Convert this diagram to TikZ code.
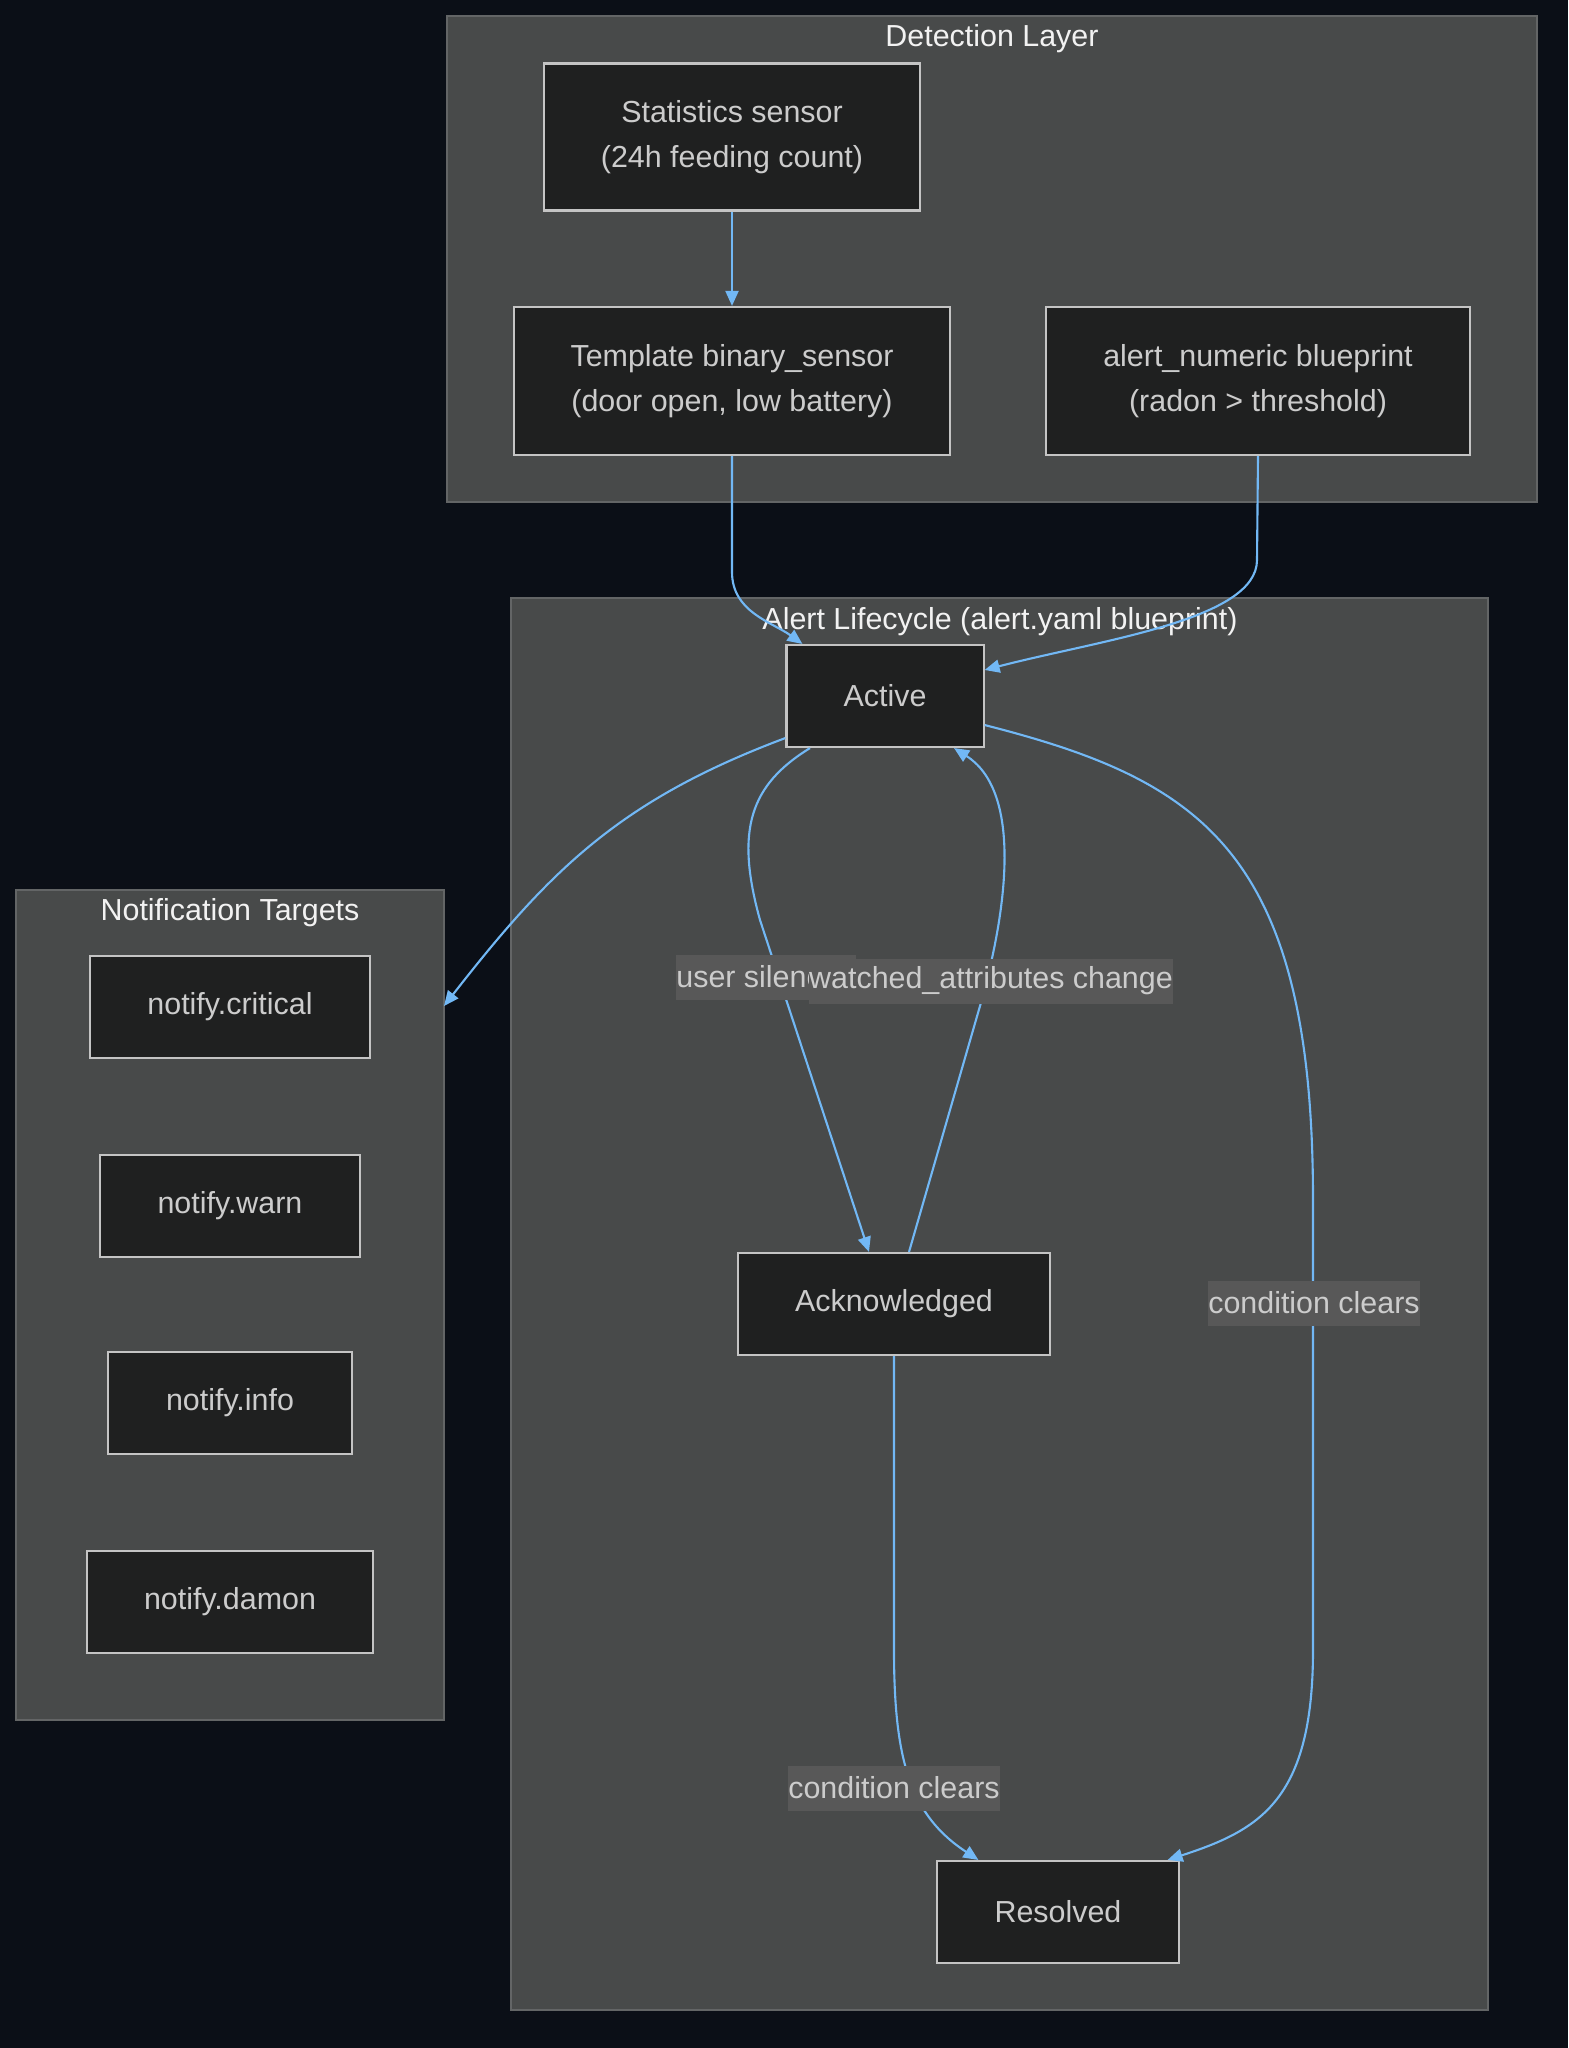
\documentclass[tikz,border=0pt]{standalone}
\usepackage{fontspec}
\setmainfont{Liberation Sans}
\usetikzlibrary{arrows.meta}
\definecolor{bgcol}{HTML}{0B0F17}
\definecolor{clustfill}{HTML}{484A4A}
\definecolor{clustline}{HTML}{636566}
\definecolor{boxfill}{HTML}{1F2020}
\definecolor{boxline}{HTML}{C4C4C4}
\definecolor{edgecol}{HTML}{72B8F5}
\definecolor{lblfill}{HTML}{585858}
\definecolor{txtcol}{HTML}{CCCCCC}
\tikzset{
  box/.style={draw=boxline, fill=boxfill, line width=0.6pt, text=txtcol, align=center, inner sep=0pt, minimum height=1.02cm},
  cluster/.style={draw=clustline, fill=clustfill, line width=0.6pt, inner sep=0pt},
  ctitle/.style={text=white!95!black, inner sep=0pt},
  flow/.style={draw=edgecol, line width=0.6pt, -{Triangle[length=0.15cm,width=0.13cm]}},
  lbl/.style={fill=lblfill, text=txtcol, inner sep=0pt, minimum height=0.45cm}
}
\begin{document}
\begin{tikzpicture}[x=0.01cm, y=-0.01cm, font=\fontsize{8.65}{13}\selectfont]
     \fill[bgcol] (0,0) rectangle (1568,2048);
     \useasboundingbox (0,0) rectangle (1568,2048);
     \node[cluster, minimum width=10.90cm, minimum height=4.86cm] (detect) at (992,259) {};
     \node[cluster, minimum width=9.77cm, minimum height=14.12cm] (life) at (999.5,1304) {};
     \node[cluster, minimum width=4.28cm, minimum height=8.30cm] (notif) at (230,1305) {};
     \node[ctitle] (detectT) at (992,39) {Detection Layer};
     \node[ctitle] (lifeT) at (1000,622) {Alert Lifecycle (alert.yaml blueprint)};
     \node[ctitle] (notifT) at (230,913) {Notification Targets};
     \node[box, minimum width=3.76cm, minimum height=1.47cm] (stats) at (732,137) {Statistics sensor\\(24h feeding count)};
     \node[box, minimum width=4.36cm, minimum height=1.48cm] (tmpl) at (732,381) {Template binary\_sensor\\(door open, low battery)};
     \node[box, minimum width=4.23cm, minimum height=1.48cm] (numeric) at (1258,381) {alert\_numeric blueprint\\(radon > threshold)};
     \node[box, minimum width=1.97cm] (active) at (885,696) {Active};
     \node[box, minimum width=3.11cm] (ack) at (894,1304) {Acknowledged};
     \node[box, minimum width=2.41cm] (resolved) at (1058,1912) {Resolved};
     \node[box, minimum width=2.80cm] (critical) at (230,1007) {notify.critical};
     \node[box, minimum width=2.60cm] (warn) at (230,1206) {notify.warn};
     \node[box, minimum width=2.43cm] (info) at (230,1403) {notify.info};
     \node[box, minimum width=2.86cm] (damon) at (230,1602) {notify.damon};
     \coordinate (notifin) at (444,1006);
     \draw[flow] (stats) -- (tmpl);
     \draw[flow] (tmpl.south) -- (732,572) .. controls (732,612) and (772,622) .. ([xshift=0.17cm]active.north west);
     \draw[flow] (numeric.south) -- (1257,560) .. controls (1257,620) and (1100,640) .. ([yshift=0.26cm]active.east);
     \draw[flow] ([yshift=-0.42cm]active.west) .. controls (620,800) and (550,870) .. (notifin);
     \draw[flow] ([xshift=-0.75cm]active.south) .. controls (750,785) and (735,830) .. (760,920) -- ([xshift=-0.25cm]ack.north);
     \draw[flow] ([xshift=0.15cm]ack.north) -- (980,1006) .. controls (1010,900) and (1020,790) .. ([xshift=0.69cm]active.south);
     \draw[flow] ([yshift=-0.29cm]active.east) .. controls (1200,780) and (1313,850) .. (1313,1200) -- (1313,1650) .. controls (1313,1800) and (1260,1830) .. ([xshift=-0.12cm]resolved.north east);
     \draw[flow] (ack.south) -- (894,1650) .. controls (894,1760) and (910,1815) .. ([xshift=0.42cm]resolved.north west);
     \node[lbl] (silL) at (766,977) {user silenced};
     \node[lbl] (watchL) at (991,981) {watched\_attributes change};
     \node[lbl] (clearA) at (1314,1303) {condition clears};
     \node[lbl] (clearB) at (894,1788) {condition clears};
    \end{tikzpicture}
\end{document}
